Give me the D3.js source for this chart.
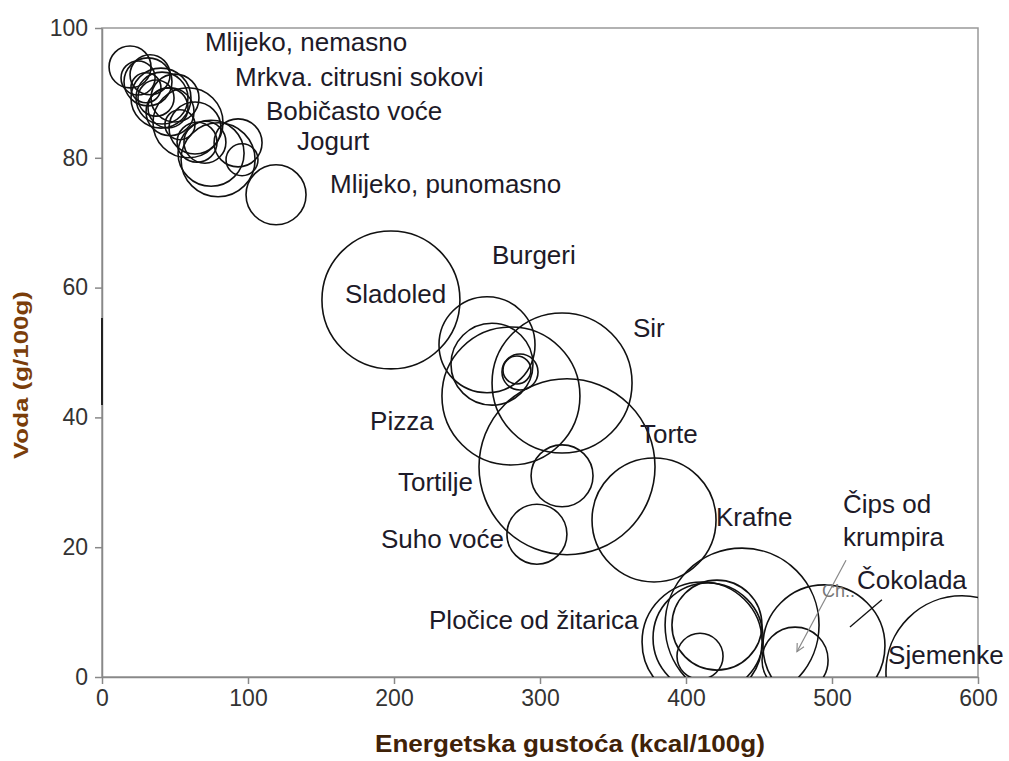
<!DOCTYPE html>
<html>
<head>
<meta charset="utf-8">
<script src="https://cdn.jsdelivr.net/npm/d3@7"></script>
<style>
  body { margin: 0; background: #fff; }
  svg { display: block; }
  .axis text { font-family: "Liberation Sans", Arial, sans-serif; font-size: 23px; fill: #333; }
  .axis path, .axis line { stroke: #888; stroke-width: 1.5; }
  .lbl { font-family: "Liberation Sans", Arial, sans-serif; font-size: 26px; fill: #1d1a28; }
</style>
</head>
<body>
<div id="chart"></div>
<script>
// energy density (kcal/100g), water (g/100g), bubble size (portion)
var energy  = [19.2, 24.7, 31.5, 40.4, 41.1, 37.0, 50.0, 58.9, 65.1, 70.5, 74.7, 93.2, 95.9, 79.5, 30.1, 45.2, 53.4, 32.9, 46.6, 63.7, 119.2,
               197.9, 263.7, 267.1, 284.2, 286.3, 280.1, 315.1, 318.5, 315.1, 297.9, 378.1,
               438.4, 411.0, 415.1, 421.2, 409.6, 474.7, 494.5, 589.0];
var water   = [94.0, 92.3, 91.7, 89.2, 89.2, 89.2, 89.2, 85.4, 82.4, 82.4, 80.7, 82.3, 79.7, 79.7, 90.8, 87.7, 85.1, 92.8, 87.1, 84.6, 74.3,
               58.1, 51.2, 48.2, 47.3, 47.0, 43.3, 45.3, 32.4, 31.0, 22.0, 24.2,
               8.0, 5.4, 6.0, 8.0, 3.2, 2.6, 4.8, 0.8];
var portion = [17.6, 11.6, 23.0, 36.0, 27.0, 13.0, 23.0, 49.0, 16.0, 17.6, 43.6, 23.0, 10.2, 54.8, 9.0, 16.0, 9.0, 16.0, 23.0, 27.0, 36.0,
               190.4, 92.2, 67.2, 7.8, 13.0, 190.4, 196.0, 309.8, 38.4, 36.0, 153.8,
               237.0, 144.0, 121.0, 81.0, 21.2, 43.6, 148.8, 231.0];

var labelNames = ["Mlijeko, nemasno", "Mrkva. citrusni sokovi", "Bobičasto voće", "Jogurt", "Mlijeko, punomasno",
                  "Burgeri", "Sladoled", "Sir", "Pizza", "Torte", "Tortilje", "Suho voće", "Krafne",
                  "Čips od", "krumpira", "Čokolada", "Pločice od žitarica", "Sjemenke"];
var labelX = [70.5, 91.1, 112.3, 133.6, 156.2, 267.1, 166.4, 363.7, 183.6, 368.5, 202.7, 191.1, 420.5, 507.5, 507.5, 517.1, 224.0, 538.4];
var labelY = [96.4, 91.0, 85.8, 81.2, 74.6, 63.6, 57.7, 52.4, 38.1, 36.0, 28.7, 19.8, 23.2, 25.3, 20.2, 13.6, 7.4, 2.0];

var xTicks = [0, 100, 200, 300, 400, 500, 600];
var yTicks = [0, 20, 40, 60, 80, 100];

var margin = {top: 28, right: 31, bottom: 84, left: 102},
    width = 1009 - margin.left - margin.right,
    height = 761 - margin.top - margin.bottom;

var x = d3.scaleLinear().domain([0, 600]).range([0, width]);
var y = d3.scaleLinear().domain([0, 100]).range([height, 0]);
var r = d3.scaleSqrt().domain([0, 400]).range([0, 100]);

var svg = d3.select("#chart").append("svg")
    .attr("width", 1009)
    .attr("height", 761)
  .append("g")
    .attr("transform", "translate(" + margin.left + "," + margin.top + ")");

svg.append("clipPath").attr("id", "plot")
  .append("rect").attr("width", width).attr("height", height);

// frame
svg.append("rect")
    .attr("width", width).attr("height", height)
    .attr("fill", "none").attr("stroke", "#999").attr("stroke-width", 1.5);

svg.append("g")
    .attr("class", "x axis")
    .attr("transform", "translate(0," + height + ")")
    .call(d3.axisBottom(x).tickValues(xTicks).tickSize(7).tickPadding(6).tickSizeOuter(0));

svg.append("g")
    .attr("class", "y axis")
    .call(d3.axisLeft(y).tickValues(yTicks).tickSize(7).tickPadding(7).tickSizeOuter(0));

// dark stroke on y axis
svg.append("line")
    .attr("x1", x(0)).attr("x2", x(0))
    .attr("y1", y(55.3)).attr("y2", y(41.9))
    .attr("stroke", "#222").attr("stroke-width", 2);

var idx = d3.range(energy.length);

svg.append("g").attr("clip-path", "url(#plot)")
  .selectAll("circle")
    .data(idx)
  .enter().append("circle")
    .attr("cx", function(i) { return x(energy[i]); })
    .attr("cy", function(i) { return y(water[i]); })
    .attr("r", function(i) { return r(portion[i]); })
    .attr("fill", "none")
    .attr("stroke", "#111")
    .attr("stroke-width", 1.6);

svg.selectAll(".lbl")
    .data(labelNames)
  .enter().append("text")
    .attr("class", "lbl")
    .attr("x", function(d, i) { return x(labelX[i]); })
    .attr("y", function(d, i) { return y(labelY[i]); })
    .text(function(d) { return d; });

// small annotations near Čokolada
svg.append("defs").append("marker")
    .attr("id", "arr").attr("viewBox", "0 0 10 10")
    .attr("refX", 9).attr("refY", 5)
    .attr("markerWidth", 8).attr("markerHeight", 8)
    .attr("orient", "auto")
  .append("path").attr("d", "M1,1 L9,5 L1,9").attr("fill", "none").attr("stroke", "#888").attr("stroke-width", 1.2);

svg.append("line")
    .attr("x1", x(509.6)).attr("y1", y(18.0))
    .attr("x2", x(476.0)).attr("y2", y(3.9))
    .attr("stroke", "#888").attr("stroke-width", 1.2)
    .attr("marker-end", "url(#arr)");

svg.append("line")
    .attr("x1", x(534.2)).attr("y1", y(11.9))
    .attr("x2", x(512.3)).attr("y2", y(7.7))
    .attr("stroke", "#111").attr("stroke-width", 1.3);

svg.append("text")
    .attr("x", x(493.2)).attr("y", y(12.3))
    .style("font-family", "Liberation Sans, Arial, sans-serif")
    .style("font-size", "18px").style("fill", "#777")
    .text("Ch..");

// axis titles
svg.append("text")
    .attr("x", 468).attr("y", height + 75)
    .attr("text-anchor", "middle")
    .style("font-family", "Liberation Sans, Arial, sans-serif")
    .style("font-size", "23px").style("font-weight", "bold").style("fill", "#3f2208")
    .attr("textLength", 390).attr("lengthAdjust", "spacingAndGlyphs")
    .text("Energetska gustoća (kcal/100g)");

svg.append("text")
    .attr("transform", "rotate(-90)")
    .attr("x", -347).attr("y", -74)
    .attr("text-anchor", "middle")
    .style("font-family", "Liberation Sans, Arial, sans-serif")
    .style("font-size", "21px").style("font-weight", "bold").style("fill", "#7a3d0a")
    .attr("textLength", 168).attr("lengthAdjust", "spacingAndGlyphs")
    .text("Voda (g/100g)");
</script>
</body>
</html>
